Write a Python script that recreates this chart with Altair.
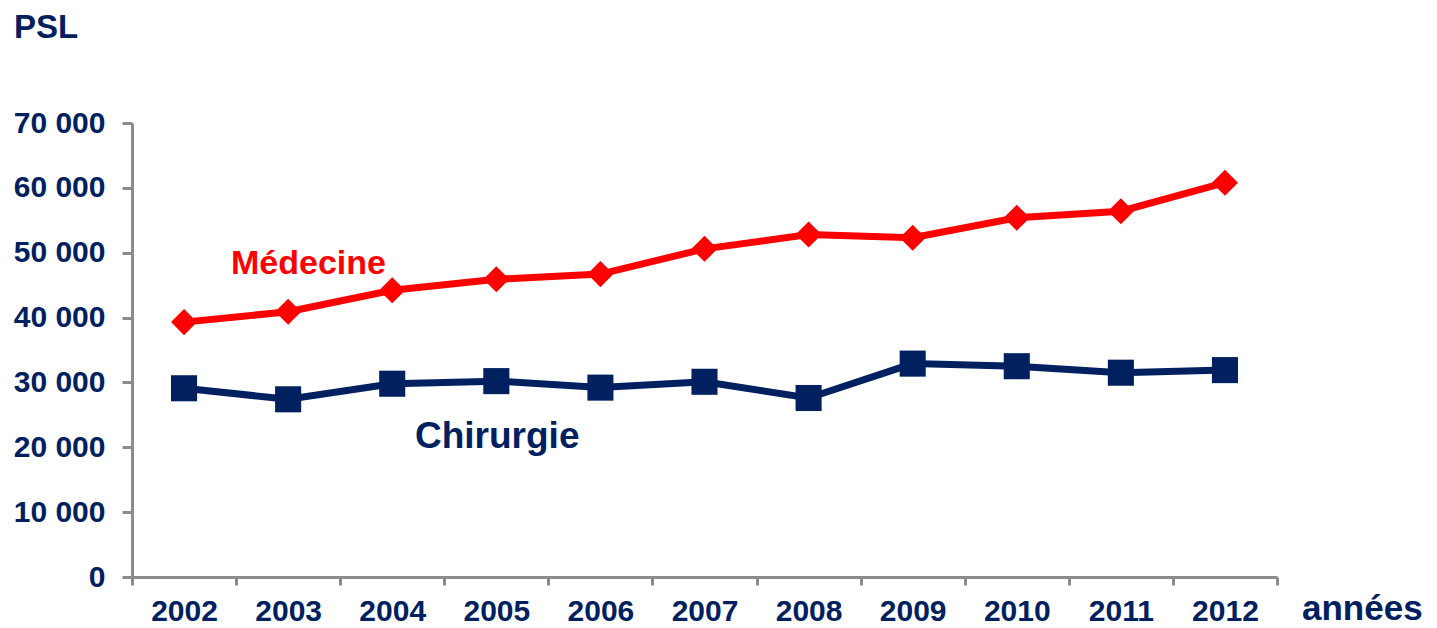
import altair as alt
import pandas as pd

# ---- data ----
years = ["2002", "2003", "2004", "2005", "2006", "2007", "2008", "2009", "2010", "2011", "2012"]
medecine = [39300, 40900, 44200, 45900, 46700, 50600, 52800, 52300, 55400, 56400, 60800]
chirurgie = [29100, 27400, 29800, 30200, 29200, 30100, 27600, 32900, 32500, 31500, 31900]
y_ticks = [0, 10000, 20000, 30000, 40000, 50000, 60000, 70000]
series_names = ["Médecine", "Chirurgie"]

RED = "#FF0000"
NAVY = "#002060"
GRAY = "#8C8C8C"
FONT = "Liberation Sans"

df = pd.DataFrame(
    {
        "year": years * 2,
        "value": medecine + chirurgie,
        "series": [series_names[0]] * len(years) + [series_names[1]] * len(years),
    }
)

x_enc = alt.X(
    "year:O",
    bandPosition=0.5,
    scale=alt.Scale(type="band", paddingInner=0, paddingOuter=0),
    axis=alt.Axis(
        title=None,
        labelAngle=0,
        tickBand="extent",
        domainColor=GRAY,
        domainWidth=3,
        tickColor=GRAY,
        tickWidth=3,
        tickSize=8,
        labelFont=FONT,
        labelFontSize=30,
        labelFontWeight="bold",
        labelColor=NAVY,
        labelPadding=11,
        grid=False,
    ),
)
y_enc = alt.Y(
    "value:Q",
    scale=alt.Scale(domain=[0, 70000], nice=False),
    axis=alt.Axis(
        title=None,
        values=y_ticks,
        labelExpr="datum.value == 0 ? '0' : format(datum.value / 1000, 'd') + ' 000'",
        domainColor=GRAY,
        domainWidth=3,
        tickColor=GRAY,
        tickWidth=3,
        tickSize=10,
        labelFont=FONT,
        labelFontSize=30,
        labelFontWeight="bold",
        labelColor=NAVY,
        labelPadding=17,
        grid=False,
    ),
)

base = alt.Chart(df).encode(x=x_enc, y=y_enc)

med = base.transform_filter(alt.datum.series == series_names[0])
chi = base.transform_filter(alt.datum.series == series_names[1])

med_line = med.mark_line(color=RED, strokeWidth=7)
med_pts = med.mark_point(shape="diamond", filled=True, size=680, color=RED, opacity=1)
chi_line = chi.mark_line(color=NAVY, strokeWidth=7)
chi_pts = chi.mark_point(shape="square", filled=True, size=680, color=NAVY, opacity=1)


def label(txt, px, py, size, color, baseline="alphabetic"):
    return alt.Chart(pd.DataFrame({"t": [txt]})).mark_text(
        align="left",
        baseline=baseline,
        font=FONT,
        fontSize=size,
        fontWeight="bold",
        color=color,
    ).encode(x=alt.value(px), y=alt.value(py), text="t:N")


lbl_med = label("Médecine", 99, 151, 34, RED)
lbl_chi = label("Chirurgie", 283, 325, 37, NAVY)
lbl_psl = label("PSL", -118, -111, 33, NAVY, baseline="top")
lbl_ann = label("années", 1170, 497, 35, NAVY)

chart = (
    alt.layer(med_line, chi_line, med_pts, chi_pts, lbl_med, lbl_chi, lbl_psl, lbl_ann)
    .properties(
        width=1145,
        height=454,
        autosize=alt.AutoSizeParams(type="none"),
        padding={"left": 124, "top": 115, "right": 152, "bottom": 50},
        background="white",
    )
    .configure_view(strokeWidth=0, stroke="transparent")
)

chart.save("out.html", embed_options={"renderer": "svg", "actions": False})
